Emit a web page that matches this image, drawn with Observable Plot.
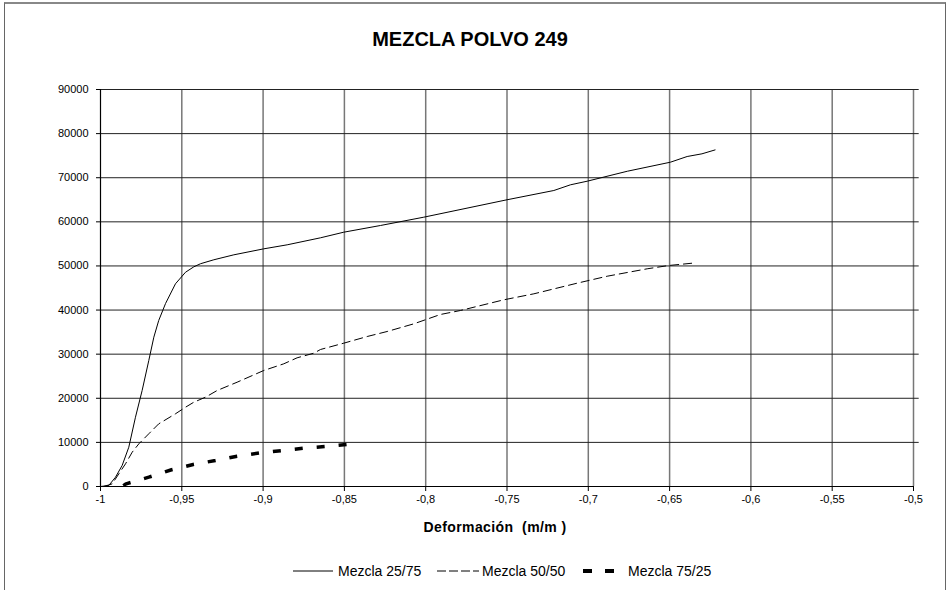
<!DOCTYPE html>
<html><head><meta charset="utf-8">
<script src="https://cdn.jsdelivr.net/npm/d3@7"></script>
<script src="https://cdn.jsdelivr.net/npm/@observablehq/plot@0.6"></script>
<style>
body{margin:0;background:#fff;font-family:"Liberation Sans",Arial,sans-serif;color:#000;}
#frame{position:absolute;left:4px;top:2px;width:942px;height:640px;border:1px solid #666;border-top:2px solid #888;box-sizing:border-box;}
#chart{position:absolute;left:0;top:0;}
#title{position:absolute;left:0;width:940px;top:28px;text-align:center;font-weight:bold;font-size:20px;}
#xlabel{position:absolute;left:345px;width:300px;top:519px;text-align:center;font-weight:bold;font-size:14px;white-space:pre;letter-spacing:0.4px;}
#legend{position:absolute;left:0;top:562px;width:947px;height:20px;font-size:14px;white-space:nowrap;}
#legend svg,#legend span{position:absolute;top:0;}
#legend span{line-height:18px;}
</style>
</head><body>
<div id="frame"></div>
<div id="chart"></div>
<div id="title"></div>
<div id="xlabel"></div>
<div id="legend"></div>
<script>
// ---- data ----
const chartTitle = "MEZCLA POLVO 249";
const xAxisLabel = "Deformación  (m/m )";
const seriesNames = ["Mezcla 25/75", "Mezcla 50/50", "Mezcla 75/25"];

const xTicks = [-1, -0.95, -0.9, -0.85, -0.8, -0.75, -0.7, -0.65, -0.6, -0.55, -0.5];
const yTicks = [0, 10000, 20000, 30000, 40000, 50000, 60000, 70000, 80000, 90000];

const s1x = [-1, -0.9949, -0.9908, -0.9867, -0.9826, -0.9785, -0.9744, -0.9703, -0.9672, -0.9642, -0.96, -0.9539, -0.9477, -0.9426, -0.9385, -0.9303, -0.918, -0.8996, -0.8852, -0.8647, -0.8504, -0.8278, -0.8012, -0.75, -0.7212, -0.711, -0.7007, -0.676, -0.6495, -0.6392, -0.6301, -0.6218];
const s1y = [0, 230, 2100, 4760, 8900, 15700, 21760, 28560, 33850, 37630, 41480, 45950, 48580, 49800, 50500, 51400, 52520, 53880, 54790, 56380, 57650, 59170, 61050, 65000, 67100, 68390, 69210, 71470, 73520, 74810, 75420, 76330];

const s2x = [-0.998, -0.9928, -0.9887, -0.9846, -0.9805, -0.9764, -0.9703, -0.9642, -0.9539, -0.9477, -0.9426, -0.9354, -0.9283, -0.916, -0.8996, -0.8873, -0.8791, -0.8688, -0.8647, -0.8504, -0.836, -0.8237, -0.8073, -0.791, -0.7786, -0.752, -0.7335, -0.7069, -0.6884, -0.6638, -0.6505, -0.6362];
const s2y = [0, 600, 2880, 5150, 7780, 9680, 11950, 14200, 16480, 17980, 19110, 20250, 21760, 23640, 26300, 27810, 29170, 30220, 31060, 32490, 34000, 35140, 36880, 38990, 39900, 42320, 43680, 46090, 47670, 49350, 50100, 50620];

const s3x = [-0.986, -0.9842, -0.9703, -0.9563, -0.943, -0.9293, -0.916, -0.9016, -0.8883, -0.875, -0.8616, -0.8469, -0.8438];
const s3y = [200, 610, 2110, 3790, 4990, 5890, 6870, 7640, 8160, 8680, 9070, 9590, 9650];

// ---- build tables ----
const toRows = (xs, ys) => xs.map((x, i) => ({x, y: ys[i]}));
const d1 = toRows(s1x, s1y), d2 = toRows(s2x, s2y), d3r = toRows(s3x, s3y);
const xGrid = xTicks.slice(1);
const yGrid = yTicks.slice(1);

const styles = [
  {stroke: "#000", strokeWidth: 1, strokeLinecap: "butt"},
  {stroke: "#000", strokeWidth: 1, strokeDasharray: "9,4", strokeLinecap: "butt"},
  {stroke: "#000", strokeWidth: 3.5, strokeDasharray: "8,14", strokeLinecap: "butt", strokeLinejoin: "miter"}
];

const chart = Plot.plot({
  width: 947, height: 590,
  marginLeft: 100, marginRight: 34, marginTop: 89, marginBottom: 104,
  style: {fontFamily: '"Liberation Sans", Arial, sans-serif', fontSize: "11px", color: "#000", background: "transparent", overflow: "visible"},
  x: {domain: [-1, -0.5]},
  y: {domain: [0, 90000]},
  marks: [
    Plot.ruleX(xGrid, {stroke: "#777", strokeWidth: 1.5}),
    Plot.ruleY(yGrid, {x1: -1, x2: -0.4965, stroke: "#222", strokeWidth: 1}),
    Plot.line(d1, {x: "x", y: "y", ...styles[0]}),
    Plot.line(d2, {x: "x", y: "y", ...styles[1]}),
    Plot.line(d3r, {x: "x", y: "y", ...styles[2]}),
    Plot.ruleX([-1], {stroke: "#000", strokeWidth: 1.2}),
    Plot.ruleY([0], {stroke: "#000", strokeWidth: 1.2}),
    Plot.axisX({ticks: xTicks, tickFormat: d => String(d).replace(".", ","), tickSize: 5, tickPadding: 4, label: null, fontSize: 11}),
    Plot.axisY({ticks: yTicks, tickFormat: d => String(d), tickSize: 4, tickPadding: 8, label: null, fontSize: 11})
  ]
});
document.getElementById("chart").appendChild(chart);
document.getElementById("title").textContent = chartTitle;
document.getElementById("xlabel").textContent = xAxisLabel;

// legend: swatch left, swatch width, text left
const legendLayout = [[293, 40, 338], [437, 42, 482], [583, 31, 628]];
const legendDash = [null, "9,3", "9,13"];
const legend = document.getElementById("legend");
seriesNames.forEach((name, i) => {
  const s = styles[i];
  const [sx, sw, tx] = legendLayout[i];
  legend.insertAdjacentHTML("beforeend",
    `<svg style="left:${sx}px" width="${sw}" height="18"><line x1="0" x2="${sw}" y1="9" y2="9" stroke="${s.stroke}" stroke-width="${i === 2 ? 4 : 1}" ${legendDash[i] ? `stroke-dasharray="${legendDash[i]}"` : ""}/></svg>` +
    `<span style="left:${tx}px">${name}</span>`);
});
</script>
</body></html>
